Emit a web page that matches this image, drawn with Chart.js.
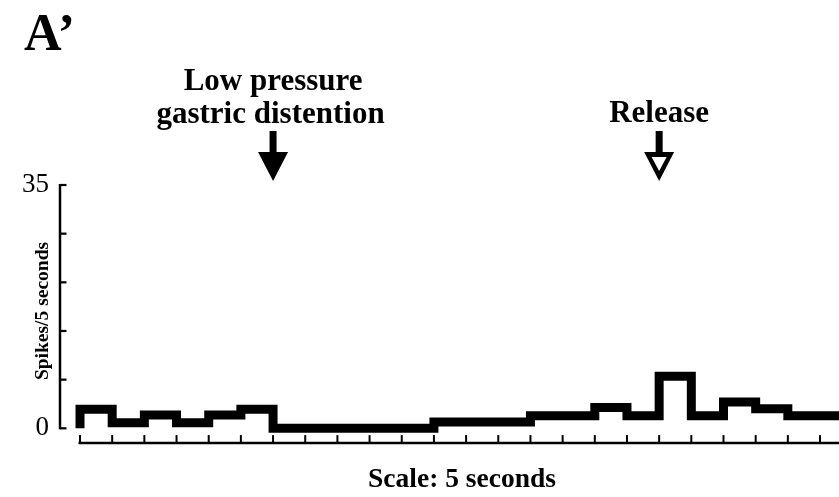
<!DOCTYPE html>
<html>
<head>
<meta charset="utf-8">
<script src="https://cdn.jsdelivr.net/npm/chart.js@4"></script>
<style>
    body { margin: 0; background: #fff; }
    canvas { display: block; }
</style>
</head>
<body>
<canvas id="spikeChart" width="839" height="497"></canvas>
<script>
// Spike counts per 5 s bin (bin index = start of bin, in units of 5 s)
const binIndex = [0, 1, 2, 3, 4, 5, 6, 7, 8, 9, 10, 11, 12, 13, 14, 15, 16, 17, 18, 19, 20, 21, 22, 23];
const spikeCounts = [2.75, 0.8, 1.9, 0.8, 1.9, 2.75, 0, 0, 0, 0, 0, 0.9, 0.9, 0.9, 1.8, 1.8, 3.0, 1.8, 7.5, 1.8, 3.8, 2.8, 1.8, 1.8];

// y axis ticks and the ones that get a number
const yTickValues = [0, 7, 14, 21, 28, 35];
const yLabelValues = [0, 35];

// stimulus markers (bin where each one starts)
const distentionAt = 6;
const releaseAt = 18;

const SERIF = '"Liberation Serif", "Times New Roman", serif';

// build the histogram outline: up from zero, then flat across every bin
function stepOutline() {
    const pts = [{ x: binIndex[0], y: 0 }];
    binIndex.forEach((b, i) => {
        pts.push({ x: b, y: spikeCounts[i] });
        pts.push({ x: b + 1, y: spikeCounts[i] });
    });
    return pts;
}

function drawArrow(ctx, cx, hollow) {
    // shaft
    ctx.fillStyle = "#000";
    ctx.fillRect(cx - 3.5, 131, 7, 23);
    // head
    ctx.beginPath();
    ctx.moveTo(cx - 15, 152);
    ctx.lineTo(cx + 15, 152);
    ctx.lineTo(cx, 181);
    ctx.closePath();
    ctx.fill();
    if (hollow) {
        ctx.fillStyle = "#fff";
        ctx.beginPath();
        ctx.moveTo(cx - 7.5, 157);
        ctx.lineTo(cx + 7.5, 157);
        ctx.lineTo(cx, 171);
        ctx.closePath();
        ctx.fill();
    }
}

// axes with inward ticks plus the labels around the plot
const histogramFrame = {
    id: "histogramFrame",
    afterDraw(chart) {
        const ctx = chart.ctx;
        const x = chart.scales.x;
        const y = chart.scales.y;
        const area = chart.chartArea;
        ctx.save();
        ctx.strokeStyle = "#000";
        ctx.lineCap = "butt";

        // y axis
        ctx.lineWidth = 2.5;
        ctx.beginPath();
        ctx.moveTo(area.left, y.getPixelForValue(35) - 1);
        ctx.lineTo(area.left, y.getPixelForValue(0) + 1);
        ctx.stroke();
        ctx.lineWidth = 2.2;
        yTickValues.forEach(v => {
            const py = y.getPixelForValue(v);
            ctx.beginPath();
            ctx.moveTo(area.left, py);
            ctx.lineTo(area.left + 6.5, py);
            ctx.stroke();
        });

        // x axis, ticks pointing up
        const axisY = area.bottom - 0.5;
        ctx.lineWidth = 2.5;
        ctx.beginPath();
        ctx.moveTo(x.getPixelForValue(0) - 1.5, axisY);
        ctx.lineTo(area.right, axisY);
        ctx.stroke();
        ctx.lineWidth = 2;
        for (let t = 0; t <= Math.floor(x.max); t++) {
            const px = x.getPixelForValue(t);
            ctx.beginPath();
            ctx.moveTo(px, axisY);
            ctx.lineTo(px, axisY - 8);
            ctx.stroke();
        }

        // text
        ctx.fillStyle = "#000";
        ctx.textBaseline = "alphabetic";
        ctx.textAlign = "left";
        ctx.font = "bold 52px " + SERIF;
        ctx.fillText("A\u2019", 24, 50);

        const dx = x.getPixelForValue(distentionAt);
        const rx = x.getPixelForValue(releaseAt);
        ctx.textAlign = "center";
        ctx.font = "bold 31px " + SERIF;
        ctx.fillText("Low pressure", dx, 90);
        ctx.fillText("gastric distention", dx - 2.5, 123);
        ctx.fillText("Release", rx, 122);

        ctx.font = "bold 27.5px " + SERIF;
        ctx.fillText("Scale: 5 seconds", 462, 487);

        ctx.save();
        ctx.translate(48, 311);
        ctx.rotate(-Math.PI / 2);
        ctx.font = "bold 19.5px " + SERIF;
        ctx.fillText("Spikes/5 seconds", 0, 0);
        ctx.restore();

        drawArrow(ctx, dx, false);
        drawArrow(ctx, rx, true);
        ctx.restore();
    }
};

new Chart(document.getElementById("spikeChart").getContext("2d"), {
    type: "line",
    data: {
        datasets: [{
            data: stepOutline(),
            borderColor: "#000",
            borderWidth: 9,
            borderJoinStyle: "miter",
            borderCapStyle: "butt",
            pointRadius: 0,
            tension: 0,
            fill: false
        }]
    },
    options: {
        responsive: false,
        animation: false,
        layout: { padding: { top: 185, bottom: 53.4, left: 0, right: 0 } },
        plugins: { legend: { display: false }, tooltip: { enabled: false } },
        scales: {
            x: {
                type: "linear",
                min: -0.622,
                max: 23.59,
                display: false
            },
            y: {
                min: -2.2,
                max: 35,
                afterBuildTicks: scale => { scale.ticks = yTickValues.map(v => ({ value: v })); },
                afterFit: scale => { scale.width = 60; },
                grid: { display: false, drawTicks: false },
                border: { display: false },
                ticks: {
                    padding: 11,
                    color: "#000",
                    font: { family: SERIF, size: 27 },
                    callback: v => yLabelValues.includes(v) ? String(v) : ""
                }
            }
        }
    },
    plugins: [histogramFrame]
});
</script>
</body>
</html>
